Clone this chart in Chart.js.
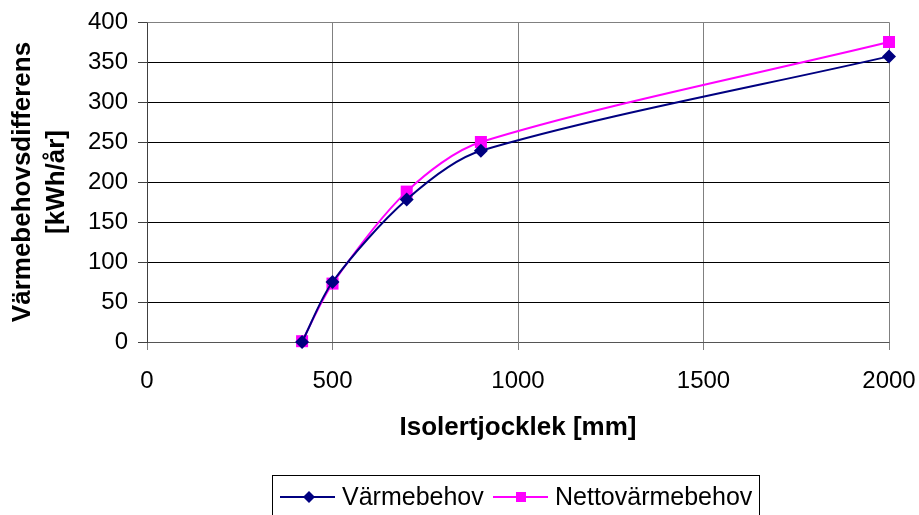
<!DOCTYPE html>
<html>
<head>
<meta charset="utf-8">
<script src="https://cdn.jsdelivr.net/npm/chart.js@4/dist/chart.umd.min.js"></script>
<style>
html,body{margin:0;padding:0;background:#fff;}
#wrap{width:919px;height:515px;position:relative;}
</style>
</head>
<body>
<div id="wrap"><canvas id="c" width="919" height="515"></canvas></div>
<script>
// Data
const thicknessA = [418, 500, 700, 900, 2000];
const varmebehov = [0, 75, 178, 239, 357];
const thicknessB = [418, 500, 700, 900, 2000];
const nettovarmebehov = [1, 73, 188, 250, 375];
const seriesNames = ['Värmebehov', 'Nettovärmebehov'];
const xTitle = 'Isolertjocklek [mm]';
const yTitle = ['Värmebehovsdifferens', '[kWh/år]'];
const xTicks = [0, 500, 1000, 1500, 2000];
const yTicks = [0, 50, 100, 150, 200, 250, 300, 350, 400];

const FONT = '"Liberation Sans", Arial, sans-serif';
const NAVY = '#000080';
const MAGENTA = '#FF00FF';

const toPts = (xs, ys) => xs.map((x, i) => ({x: x, y: ys[i]}));

const frame = {
  id: 'frame',
  beforeDatasetsDraw(chart) {
    const a = chart.chartArea, ctx = chart.ctx;
    ctx.save();
    ctx.strokeStyle = '#808080';
    ctx.lineWidth = 1;
    ctx.beginPath();
    ctx.moveTo(Math.round(a.left) + 0.5, Math.round(a.top) + 0.5);
    ctx.lineTo(Math.round(a.right) + 0.5, Math.round(a.top) + 0.5);
    ctx.lineTo(Math.round(a.right) + 0.5, Math.round(a.bottom) + 0.5);
    ctx.stroke();
    ctx.restore();
  }
};

const legendBox = {
  id: 'legendBox',
  afterDraw(chart) {
    const ctx = chart.ctx;
    ctx.save();
    ctx.strokeStyle = '#000';
    ctx.lineWidth = 1;
    ctx.strokeRect(272.5, 475.5, 487, 45);
    const ly = 497;
    const items = [
      {x0: 280, x1: 335, mx: 309, tx: 342, color: NAVY, shape: 'diamond', label: seriesNames[0]},
      {x0: 493, x1: 548, mx: 521, tx: 555, color: MAGENTA, shape: 'square', label: seriesNames[1]}
    ];
    items.forEach(it => {
      ctx.strokeStyle = it.color;
      ctx.lineWidth = 2;
      ctx.beginPath();
      ctx.moveTo(it.x0, ly);
      ctx.lineTo(it.x1, ly);
      ctx.stroke();
      ctx.fillStyle = it.color;
      ctx.beginPath();
      if (it.shape === 'diamond') {
        ctx.moveTo(it.mx, ly - 6);
        ctx.lineTo(it.mx + 6, ly);
        ctx.lineTo(it.mx, ly + 6);
        ctx.lineTo(it.mx - 6, ly);
        ctx.closePath();
      } else {
        ctx.rect(it.mx - 5, ly - 5, 10, 10);
      }
      ctx.fill();
      ctx.fillStyle = '#000';
      ctx.font = '25px ' + FONT;
      ctx.textBaseline = 'alphabetic';
      ctx.textAlign = 'left';
      ctx.fillText(it.label, it.tx, 505);
    });
    ctx.restore();
  }
};

new Chart(document.getElementById('c'), {
  type: 'scatter',
  data: {
    datasets: [
      {
        label: seriesNames[0],
        data: toPts(thicknessA, varmebehov),
        showLine: true,
        borderColor: NAVY,
        backgroundColor: NAVY,
        borderWidth: 2,
        pointStyle: 'rectRot',
        pointRadius: 7,
        pointHoverRadius: 7,
        pointBorderWidth: 0,
        tension: 0.3,
        clip: false
      },
      {
        label: seriesNames[1],
        data: toPts(thicknessB, nettovarmebehov),
        showLine: true,
        borderColor: MAGENTA,
        backgroundColor: MAGENTA,
        borderWidth: 2,
        pointStyle: 'rect',
        pointRadius: 8.5,
        pointHoverRadius: 8.5,
        pointBorderWidth: 0,
        tension: 0.3,
        clip: false
      }
    ]
  },
  options: {
    responsive: false,
    animation: false,
    events: [],
    layout: {padding: {left: 0, top: 22, right: 30, bottom: 72}},
    plugins: {legend: {display: false}, tooltip: {enabled: false}},
    scales: {
      x: {
        type: 'linear',
        min: 0, max: 2000,
        afterBuildTicks: s => { s.ticks = xTicks.map(v => ({value: v})); },
        afterFit: s => { s.height = 101; s.paddingLeft = 0; s.paddingRight = 0; },
        ticks: {color: '#000', font: {family: FONT, size: 24}, padding: 17, maxRotation: 0, callback: v => String(v)},
        grid: {
          color: ctx => (ctx.tick && ctx.tick.value > 0 && ctx.tick.value < 2000) ? '#808080' : 'rgba(0,0,0,0)',
          tickColor: '#808080',
          tickLength: 8,
          lineWidth: 1
        },
        border: {display: true, color: '#555', width: 1},
        title: {display: true, text: xTitle, color: '#000', font: {family: FONT, size: 26, weight: 'bold'}, padding: {top: 0, bottom: 0}}
      },
      y: {
        type: 'linear',
        min: 0, max: 400,
        afterBuildTicks: s => { s.ticks = yTicks.map(v => ({value: v})); },
        afterFit: s => { s.width = 147; s.paddingTop = 0; s.paddingBottom = 0; },
        ticks: {color: '#000', font: {family: FONT, size: 24}, padding: 10, callback: v => String(v)},
        grid: {
          color: ctx => (ctx.tick && ctx.tick.value > 0 && ctx.tick.value < 400) ? '#000' : 'rgba(0,0,0,0)',
          tickColor: '#404040',
          tickLength: 9,
          lineWidth: 1
        },
        border: {display: true, color: '#404040', width: 1},
        title: {display: true, text: yTitle, color: '#000', font: {family: FONT, size: 26, weight: 'bold', lineHeight: 1.3}, padding: {top: 6, bottom: 0}}
      }
    }
  },
  plugins: [frame, legendBox]
});
</script>
</body>
</html>
